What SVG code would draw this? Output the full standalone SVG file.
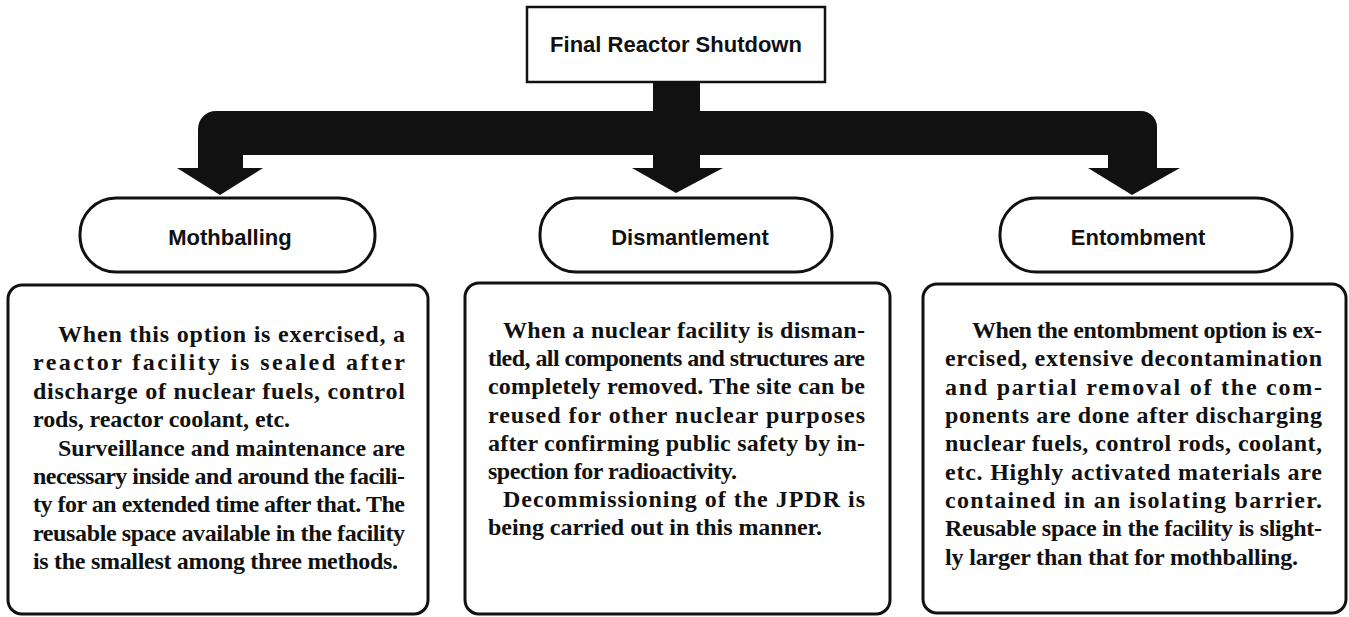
<svg xmlns="http://www.w3.org/2000/svg" width="1349" height="617" viewBox="0 0 1349 617">
<style>
.box{fill:#fff;stroke:#111;stroke-width:3}
.top{fill:#fff;stroke:#111;stroke-width:2.5}
.lbl{font-family:"Liberation Sans",Arial,sans-serif;font-weight:bold;font-size:22px;fill:#111;text-anchor:middle}
.body{font-family:"Liberation Serif","Times New Roman",serif;font-weight:bold;font-size:24px;fill:#111}
.conn{fill:#111;stroke:none}
</style>
<rect width="1349" height="617" fill="#fff"/>
<g id="connectors">
<path class="conn" d="M653 82 L700 82 L700 111 L1141 111 A16 16 0 0 1 1157 127 L1157 168 L1180 168 L1132 195 L1088 168 L1108 168 L1108 155 L700 155 L700 168 L723 168 L676 193 L632 168 L653 168 L653 155 L243 155 L243 168 L263 168 L220 195 L177 168 L198 168 L198 129 A18 18 0 0 1 216 111 L653 111 Z"/>
</g>
<g id="node-final">
<rect class="top" x="527" y="7" width="298" height="75"/>
<text class="lbl" x="676" y="52" font-size="23.5">Final Reactor Shutdown</text>
</g>
<g id="node-mothballing">
<rect class="box" x="80" y="198" width="295" height="74" rx="36" ry="36"/>
<text class="lbl" x="230" y="245">Mothballing</text>
</g>
<g id="node-dismantlement">
<rect class="box" x="540" y="198" width="292" height="74" rx="36" ry="36"/>
<text class="lbl" x="690" y="245">Dismantlement</text>
</g>
<g id="node-entombment">
<rect class="box" x="1000" y="198" width="292" height="74" rx="36" ry="36"/>
<text class="lbl" x="1138" y="245">Entombment</text>
</g>
<g id="desc-mothballing">
<rect class="box" x="8" y="285" width="420" height="329" rx="14"/>
<text class="body" x="58" y="342" textLength="347" lengthAdjust="spacing">When this option is exercised, a</text>
<text class="body" x="33" y="370" textLength="372" lengthAdjust="spacing">reactor facility is sealed after</text>
<text class="body" x="33" y="399" textLength="372" lengthAdjust="spacing">discharge of nuclear fuels, control</text>
<text class="body" x="33" y="427" textLength="257" lengthAdjust="spacing">rods, reactor coolant, etc.</text>
<text class="body" x="58" y="456" textLength="347" lengthAdjust="spacing">Surveillance and maintenance are</text>
<text class="body" x="33" y="484" textLength="372" lengthAdjust="spacing">necessary inside and around the facili-</text>
<text class="body" x="33" y="512" textLength="372" lengthAdjust="spacing">ty for an extended time after that. The</text>
<text class="body" x="33" y="541" textLength="372" lengthAdjust="spacing">reusable space available in the facility</text>
<text class="body" x="33" y="569" textLength="365" lengthAdjust="spacing">is the smallest among three methods.</text>
</g>
<g id="desc-dismantlement">
<rect class="box" x="465" y="283" width="425" height="331" rx="14"/>
<text class="body" x="503" y="338" textLength="362" lengthAdjust="spacing">When a nuclear facility is disman-</text>
<text class="body" x="488" y="366" textLength="377" lengthAdjust="spacing">tled, all components and structures are</text>
<text class="body" x="488" y="394" textLength="377" lengthAdjust="spacing">completely removed. The site can be</text>
<text class="body" x="488" y="423" textLength="377" lengthAdjust="spacing">reused for other nuclear purposes</text>
<text class="body" x="488" y="451" textLength="377" lengthAdjust="spacing">after confirming public safety by in-</text>
<text class="body" x="488" y="479" textLength="249" lengthAdjust="spacing">spection for radioactivity.</text>
<text class="body" x="503" y="507" textLength="362" lengthAdjust="spacing">Decommissioning of the JPDR is</text>
<text class="body" x="488" y="535" textLength="334" lengthAdjust="spacing">being carried out in this manner.</text>
</g>
<g id="desc-entombment">
<rect class="box" x="923" y="284" width="423" height="329" rx="14"/>
<text class="body" x="972" y="338" textLength="350" lengthAdjust="spacing">When the entombment option is ex-</text>
<text class="body" x="945" y="366" textLength="377" lengthAdjust="spacing">ercised, extensive decontamination</text>
<text class="body" x="945" y="395" textLength="377" lengthAdjust="spacing">and partial removal of the com-</text>
<text class="body" x="945" y="423" textLength="377" lengthAdjust="spacing">ponents are done after discharging</text>
<text class="body" x="945" y="451" textLength="377" lengthAdjust="spacing">nuclear fuels, control rods, coolant,</text>
<text class="body" x="945" y="480" textLength="377" lengthAdjust="spacing">etc. Highly activated materials are</text>
<text class="body" x="945" y="508" textLength="377" lengthAdjust="spacing">contained in an isolating barrier.</text>
<text class="body" x="945" y="536" textLength="377" lengthAdjust="spacing">Reusable space in the facility is slight-</text>
<text class="body" x="945" y="565" textLength="353" lengthAdjust="spacing">ly larger than that for mothballing.</text>
</g>
</svg>
